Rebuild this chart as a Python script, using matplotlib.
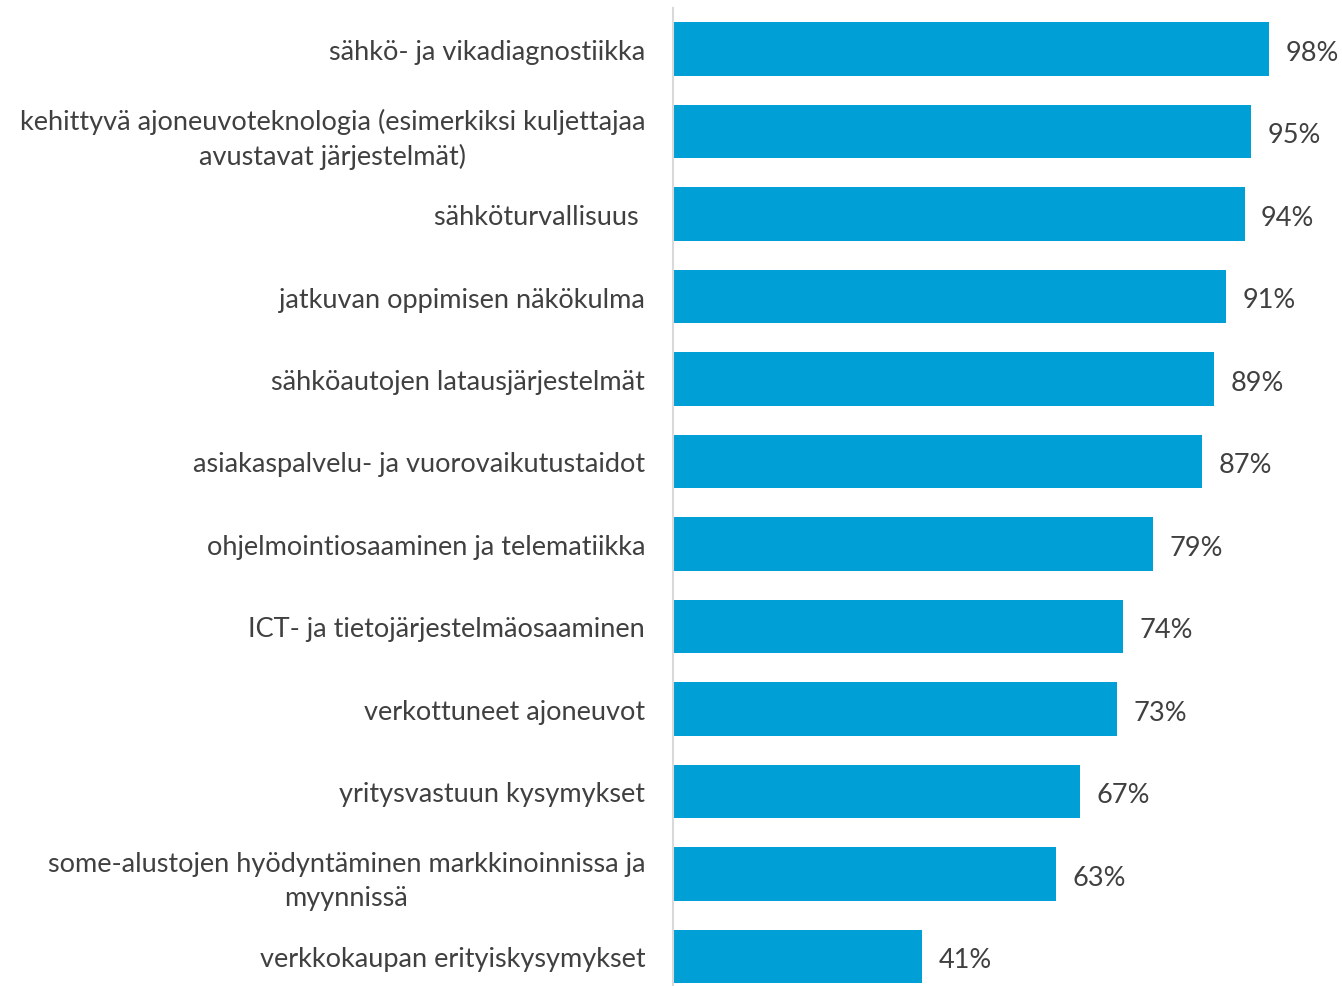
import matplotlib
matplotlib.use("Agg")
import matplotlib.pyplot as plt

categories = [
    "sähkö- ja vikadiagnostiikka",
    "kehittyvä ajoneuvoteknologia (esimerkiksi kuljettajaa\navustavat järjestelmät)",
    "sähköturvallisuus ",
    "jatkuvan oppimisen näkökulma",
    "sähköautojen latausjärjestelmät",
    "asiakaspalvelu- ja vuorovaikutustaidot",
    "ohjelmointiosaaminen ja telematiikka",
    "ICT- ja tietojärjestelmäosaaminen",
    "verkottuneet ajoneuvot",
    "yritysvastuun kysymykset",
    "some-alustojen hyödyntäminen markkinoinnissa ja\nmyynnissä",
    "verkkokaupan erityiskysymykset",
]
values = [98, 95, 94, 91, 89, 87, 79, 74, 73, 67, 63, 41]

BAR = "#009fd6"
TXT = "#404040"

plt.rcParams["font.family"] = ["Lato", "DejaVu Sans"]

fig = plt.figure(figsize=(13.42, 9.87), dpi=100)
ax = fig.add_axes([0.5015, 0.0, 0.4985, 0.991])

pos = list(range(len(categories)))
ax.barh(pos, values, height=0.65, color=BAR, zorder=2)
for p, v in zip(pos, values):
    ax.text(v + 2.7, p + 0.04, f"{v}%", ha="left", va="center", color=TXT, fontsize=19.5)

ax.set_xlim(0, 110)
ax.set_ylim(11.36, -0.5)
ax.set_yticks(pos)
ax.set_yticklabels(categories, fontsize=19.5, color=TXT)
for t in ax.get_yticklabels():
    t.set_multialignment("center")
    t.set_linespacing(1.42)
ax.tick_params(axis="y", length=0, pad=20)
ax.set_xticks([])
for s in ("top", "right", "bottom"):
    ax.spines[s].set_visible(False)
ax.spines["left"].set_color("#d9d9d9")
ax.spines["left"].set_linewidth(1.5)

fig.savefig("out.png", dpi=100, facecolor="white")
